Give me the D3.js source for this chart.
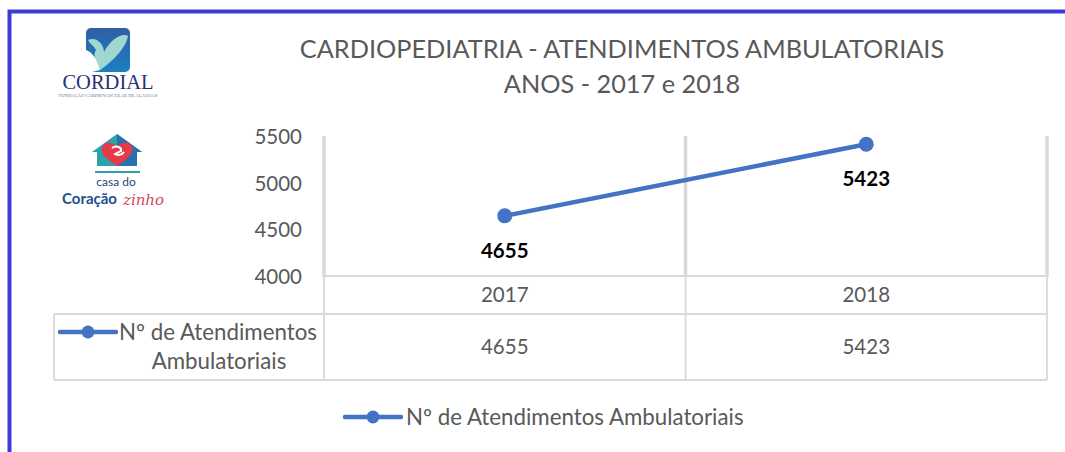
<!DOCTYPE html>
<html>
<head>
<meta charset="utf-8">
<script src="https://cdn.jsdelivr.net/npm/d3@7"></script>
<style>
  body { margin: 0; background: #fff; }
  svg { display: block; font-family: Lato, 'Open Sans', sans-serif; }
</style>
</head>
<body>
<div id="chart"></div>
<script>
const years = ['2017', '2018']
const atendimentos = [4655, 5423]
const yTicks = [4000, 4500, 5000, 5500]
const seriesName = 'Nº de Atendimentos Ambulatoriais'
const seriesNameLines = ['Nº de Atendimentos', 'Ambulatoriais']
const titleLines = ['CARDIOPEDIATRIA - ATENDIMENTOS AMBULATORIAIS', 'ANOS - 2017 e 2018']

const W = 1065, H = 452
const plot = {left: 324, right: 1047, top: 137, bottom: 277}
const table = {left: 54, head: 276, row: 314, bottom: 380}
const blue = '#4472C4'
const grid = '#d9d9d9'
const textGray = '#595959'

const data = years.map((y, i) => ({year: y, value: atendimentos[i]}))

const svg = d3.select('#chart')
    .append('svg')
    .attr('width', W)
    .attr('height', H)

svg.append('rect').attr('width', W).attr('height', H).attr('fill', '#fff')

// moldura azul
svg.append('path')
    .attr('d', `M9.5,${H} L9.5,11.5 L${W},11.5`)
    .attr('fill', 'none')
    .attr('stroke', '#3b3bd6')
    .attr('stroke-width', 4)

// titulo
svg.append('text')
    .attr('x', 622)
    .attr('y', 58)
    .attr('text-anchor', 'middle')
    .attr('fill', textGray)
    .selectAll('tspan')
    .data(titleLines)
    .enter()
    .append('tspan')
    .attr('x', 622)
    .attr('dy', (d, i) => i === 0 ? 0 : 35)
    .style('font-size', '25.3px')
    .text(d => d)

const x = d3.scaleBand()
    .domain(years)
    .range([plot.left, plot.right])

const y = d3.scaleLinear()
    .domain([4000, 5500])
    .range([plot.bottom, plot.top])

// linhas verticais de grade
const edges = [plot.left, ...years.map(d => x(d) + x.bandwidth())]
svg.append('g')
    .selectAll('line')
    .data(edges)
    .enter()
    .append('line')
    .attr('x1', d => d)
    .attr('x2', d => d)
    .attr('y1', plot.top - 1)
    .attr('y2', plot.bottom)
    .attr('stroke', grid)
    .attr('stroke-width', 3.5)

// eixo Y
const leftAxis = d3.axisLeft(y)
    .tickValues(yTicks)
    .tickFormat(d3.format('d'))
    .tickSize(0)
    .tickPadding(22)
const gy = svg.append('g')
    .attr('transform', `translate(${plot.left}, 0)`)
    .call(leftAxis)
gy.select('.domain').remove()
gy.selectAll('text')
    .attr('fill', textGray)
    .style('font-size', '20.5px')
    .style('font-family', 'Lato, sans-serif')

// tabela de dados
const tg = svg.append('g')
    .attr('stroke', grid)
    .attr('stroke-width', 1.8)
    .attr('fill', 'none')
tg.append('line').attr('x1', plot.left).attr('x2', plot.right).attr('y1', table.head).attr('y2', table.head)
tg.append('line').attr('x1', table.left).attr('x2', plot.right).attr('y1', table.row).attr('y2', table.row)
tg.append('line').attr('x1', table.left).attr('x2', plot.right).attr('y1', table.bottom).attr('y2', table.bottom)
tg.append('line').attr('x1', table.left).attr('x2', table.left).attr('y1', table.row).attr('y2', table.bottom)
tg.selectAll('.col')
    .data(edges)
    .enter()
    .append('line')
    .attr('x1', d => d)
    .attr('x2', d => d)
    .attr('y1', table.head)
    .attr('y2', table.bottom)

// eixo X (cabecalho da tabela)
const bottomAxis = d3.axisBottom(x).tickSize(0)
const gx = svg.append('g')
    .attr('transform', `translate(0, ${table.head})`)
    .call(bottomAxis)
gx.select('.domain').remove()
gx.selectAll('text')
    .attr('y', 19)
    .attr('dy', '0.35em')
    .attr('fill', textGray)
    .style('font-size', '20.5px')
    .style('font-family', 'Lato, sans-serif')

// valores na tabela
svg.append('g')
    .selectAll('text')
    .data(data)
    .enter()
    .append('text')
    .attr('x', d => x(d.year) + x.bandwidth() / 2)
    .attr('y', (table.row + table.bottom) / 2)
    .attr('dy', '0.35em')
    .attr('text-anchor', 'middle')
    .attr('fill', textGray)
    .style('font-size', '20.5px')
    .text(d => d.value)

// marcador da serie
function marker(g, cx, cy, r) {
    g.append('line')
        .attr('x1', cx - 28).attr('x2', cx + 28)
        .attr('y1', cy).attr('y2', cy)
        .attr('stroke', blue)
        .attr('stroke-width', 4.5)
        .attr('stroke-linecap', 'round')
    g.append('circle')
        .attr('cx', cx).attr('cy', cy).attr('r', r)
        .attr('fill', blue)
}

// rotulo da linha na tabela
marker(svg.append('g'), 88, 332, 6.5)
const rowLabel = svg.append('text')
    .attr('fill', textGray)
    .style('font-size', '22.3px')
rowLabel.append('tspan').attr('x', 119).attr('y', 340).text(seriesNameLines[0])
rowLabel.append('tspan').attr('x', 219).attr('y', 369).attr('text-anchor', 'middle').text(seriesNameLines[1])

// linha
const line = d3.line()
    .x(d => x(d.year) + x.bandwidth() / 2)
    .y(d => y(d.value))
svg.append('path')
    .datum(data)
    .attr('d', line)
    .attr('fill', 'none')
    .attr('stroke', blue)
    .attr('stroke-width', 4.5)

svg.append('g')
    .selectAll('circle')
    .data(data)
    .enter()
    .append('circle')
    .attr('cx', d => x(d.year) + x.bandwidth() / 2)
    .attr('cy', d => y(d.value))
    .attr('r', 7.5)
    .attr('fill', blue)

// rotulos de dados
svg.append('g')
    .selectAll('text')
    .data(data)
    .enter()
    .append('text')
    .attr('x', d => x(d.year) + x.bandwidth() / 2)
    .attr('y', d => y(d.value) + 35)
    .attr('dy', '0.35em')
    .attr('text-anchor', 'middle')
    .attr('fill', '#000')
    .style('font-size', '20.5px')
    .style('font-weight', 'bold')
    .text(d => d.value)

// legenda
const lg = svg.append('g')
marker(lg, 373, 417, 6.5)
lg.append('text')
    .attr('x', 406)
    .attr('y', 417)
    .attr('dy', '0.35em')
    .attr('fill', textGray)
    .style('font-size', '22.3px')
    .text(seriesName)

// logo CORDIAL
const cordial = svg.append('g')
const grad = svg.append('defs').append('linearGradient')
    .attr('id', 'cg').attr('x1', 0).attr('y1', 0).attr('x2', 0).attr('y2', 1)
grad.append('stop').attr('offset', 0).attr('stop-color', '#2f5fa8')
grad.append('stop').attr('offset', 1).attr('stop-color', '#1c7fc0')
cordial.append('rect')
    .attr('x', 86).attr('y', 28).attr('width', 44).attr('height', 44).attr('rx', 5)
    .attr('fill', 'url(#cg)')
cordial.append('path')
    .attr('d', 'M88,40 C96,36 104,44 104,52 C110,40 122,32 128,36 C126,48 112,62 100,70 C96,64 92,56 96,50 C94,46 90,44 88,40 Z')
    .attr('fill', '#9ed8d0')
cordial.append('path')
    .attr('d', 'M86,50 C92,52 96,58 100,70 L92,72 L86,72 Z')
    .attr('fill', '#ffffff')
cordial.append('text')
    .attr('x', 108).attr('y', 89)
    .attr('text-anchor', 'middle')
    .attr('fill', '#2c2f72')
    .style('font-family', "'Liberation Serif', serif")
    .style('font-size', '20.5px')
    .text('CORDIAL')
cordial.append('text')
    .attr('x', 108).attr('y', 97)
    .attr('text-anchor', 'middle')
    .attr('fill', '#6a6f9a')
    .style('font-family', "'Liberation Serif', serif")
    .style('font-size', '4.6px')
    .text('FUNDAÇÃO CARDIOVASCULAR DE ALAGOAS')

// logo Casa do Coraçãozinho
const casa = svg.append('g')
casa.append('path')
    .attr('d', 'M117,134 L142,152 L137,152 L137,166 L97,166 L97,152 L92,152 Z')
    .attr('fill', '#2aa3a8')
casa.append('path')
    .attr('d', 'M117,134 L142,152 L137,152 L137,166 L117,166 Z')
    .attr('fill', '#2b6fb3')
casa.append('path')
    .attr('d', 'M117,166 C104,158 100,152 102,147 C104,142 112,141 117,147 C122,141 130,142 132,147 C134,152 130,158 117,166 Z')
    .attr('fill', '#e63a4a')
casa.append('path')
    .attr('d', 'M112,148 C116,145 122,147 121,151 L115,154 C118,156 122,155 124,152')
    .attr('fill', 'none')
    .attr('stroke', '#fff')
    .attr('stroke-width', 2)
casa.append('line')
    .attr('x1', 95).attr('x2', 140).attr('y1', 172).attr('y2', 172)
    .attr('stroke', '#2aa3a8').attr('stroke-width', 2)
casa.append('text')
    .attr('x', 116).attr('y', 186)
    .attr('text-anchor', 'middle')
    .attr('fill', '#2c3f7a')
    .style('font-size', '12px')
    .text('casa do')
casa.append('text')
    .attr('x', 62).attr('y', 204)
    .attr('fill', '#1f4f8f')
    .style('font-size', '15px')
    .style('font-weight', 'bold')
    .text('Coração')
casa.append('text')
    .attr('x', 123).attr('y', 205)
    .attr('fill', '#d14a5a')
    .style('font-family', "'DejaVu Serif', serif")
    .style('font-style', 'italic')
    .style('font-size', '15px')
    .text('zinho')
</script>
</body>
</html>
